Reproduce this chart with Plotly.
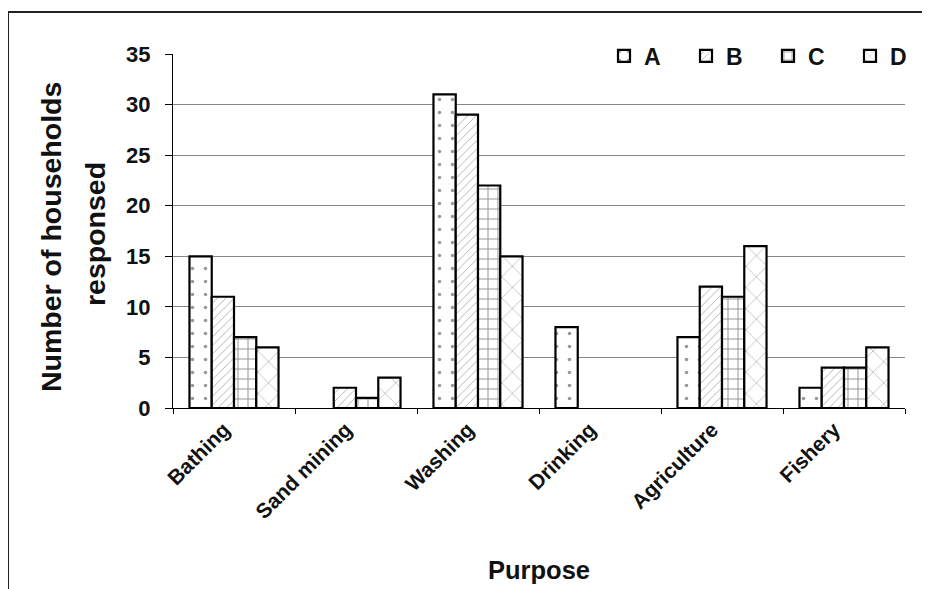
import plotly.graph_objects as go

categories = ["Bathing", "Sand mining", "Washing", "Drinking", "Agriculture", "Fishery"]
series_names = ["A", "B", "C", "D"]
values_A = [15, 0, 31, 8, 7, 2]
values_B = [11, 2, 29, 0, 12, 4]
values_C = [7, 1, 22, 0, 11, 4]
values_D = [6, 3, 15, 0, 16, 6]
y_ticks = [0, 5, 10, 15, 20, 25, 30, 35]
grid_vals = [5, 10, 15, 20, 25, 30]

series_values = [values_A, values_B, values_C, values_D]
patterns = [
    dict(shape=".", size=13, solidity=0.06, fgcolor="#333", bgcolor="white"),
    dict(shape="/", size=6, solidity=0.12, fgcolor="#333", bgcolor="white"),
    dict(shape="+", size=10, solidity=0.18, fgcolor="#222", bgcolor="white"),
    dict(shape="x", size=15, solidity=0.07, fgcolor="#333", bgcolor="white"),
]

FONT = "Arial, Liberation Sans, sans-serif"
TXT = "#111"

fig = go.Figure()
for name, vals, pat in zip(series_names, series_values, patterns):
    fig.add_trace(go.Bar(
        name=name, x=categories, y=[v if v else None for v in vals],
        marker=dict(color="white", line=dict(color="black", width=2.2), pattern=pat),
    ))

# grid-only overlay axis (no gridline at 35)
fig.add_trace(go.Scatter(x=[categories[0]], y=[0], yaxis="y2", mode="markers",
                         marker=dict(opacity=0), showlegend=False, hoverinfo="skip"))

# page body has an 8px margin; figure is sized so the plot lands where the reference has it
OFF = 8
W, H = 922, 581
L, R, T, B = 165, 25, 46, 181
pw, ph = W - L - R, H - T - B

def px_x(p):
    return (p - OFF - L) / pw

def px_y(p):
    return (H - B - (p - OFF)) / ph

fig.update_layout(
    width=W, height=H,
    margin=dict(l=L, r=R, t=T, b=B, autoexpand=False),
    paper_bgcolor="white", plot_bgcolor="rgba(0,0,0,0)",
    barmode="group", bargap=0.27, bargroupgap=0,
    font=dict(family=FONT, color=TXT),
    showlegend=True,
    legend=dict(orientation="h", x=px_x(604), xanchor="left", y=px_y(56), yanchor="middle",
                font=dict(family=FONT, size=23, color=TXT, weight="bold"),
                entrywidth=37, entrywidthmode="pixels", bgcolor="rgba(0,0,0,0)",
                traceorder="normal"),
    xaxis=dict(
        showline=True, linecolor="black", linewidth=1,
        ticks="outside", ticklen=5, tickcolor="black", tickson="boundaries",
        tickangle=-45, ticklabelshift=-10,
        tickfont=dict(family=FONT, size=21, color=TXT, weight="bold"),
        showgrid=False,
    ),
    yaxis=dict(
        range=[0, 35], tickvals=y_ticks, showline=True, linecolor="black", linewidth=1,
        ticks="outside", ticklen=7, tickcolor="black", showgrid=False, zeroline=False,
        ticklabelstandoff=10,
        tickfont=dict(family=FONT, size=22, color=TXT, weight="bold"),
    ),
    yaxis2=dict(
        range=[0, 35], overlaying="y", tickvals=grid_vals, showticklabels=False,
        showgrid=True, gridcolor="#888", gridwidth=1, zeroline=False, showline=False,
        layer="below traces",
    ),
    shapes=[
        dict(type="line", xref="paper", yref="paper", x0=px_x(8), x1=px_x(940),
             y0=px_y(12), y1=px_y(12), line=dict(color="#222", width=2)),
        dict(type="line", xref="paper", yref="paper", x0=px_x(8), x1=px_x(8),
             y0=px_y(12), y1=px_y(600), line=dict(color="#222", width=2)),
    ],
    annotations=[
        dict(text="Number of households", xref="paper", yref="paper",
             x=px_x(51), y=px_y(237), xanchor="center", yanchor="middle",
             textangle=-90, showarrow=False,
             font=dict(family=FONT, size=28.5, color=TXT, weight="bold")),
        dict(text="responsed", xref="paper", yref="paper",
             x=px_x(95), y=px_y(234), xanchor="center", yanchor="middle",
             textangle=-90, showarrow=False,
             font=dict(family=FONT, size=28.5, color=TXT, weight="bold")),
        dict(text="Purpose", xref="paper", yref="paper",
             x=px_x(539), y=px_y(570), xanchor="center", yanchor="middle",
             showarrow=False,
             font=dict(family=FONT, size=25.5, color=TXT, weight="bold")),
    ],
)

fig.write_html("out.html")
